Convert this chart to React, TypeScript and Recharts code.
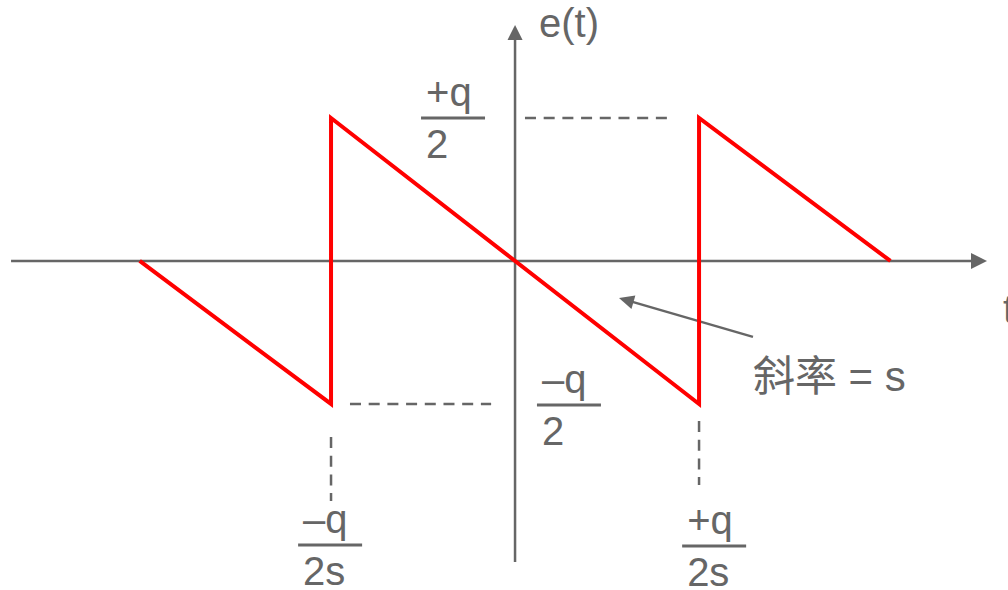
import React from 'react';
import { ComposedChart, Line, XAxis, YAxis, ReferenceLine, ReferenceDot } from 'recharts';

// sawtooth quantisation error e(t); x in units of q/(2s), y in units of q/2
const sawX = [-2.04, -1, -1, 1, 1, 2.04];
const sawY = [0, -1, 1, -1, 1, 0];
const data = sawX.map((x, i) => ({ x, y: sawY[i] }));

const xDomain: [number, number] = [-2.799, 2.679];
const yDomain: [number, number] = [-2.301, 1.825];

// fraction labels
const fracNum = ['+q', '–q', '–q', '+q'];
const fracDen = ['2', '2', '2s', '2s'];
const fracX = [-0.337, 0.293, -1.005, 1.082];
const fracY = [1.0, -1.007, -1.986, -1.993];

// plain text labels
const textLabels = ['e(t)', '斜率 = s', 't'];
const textX = [0.13, 1.293, 2.652];
const textY = [1.566, -0.909, -0.434];
const textSize = [40, 42, 40];

// dashed guides
const guides = [
  [{ x: 0.054, y: 1 }, { x: 0.826, y: 1 }],
  [{ x: -0.897, y: -1 }, { x: -0.13, y: -1 }],
  [{ x: -1, y: -1.231 }, { x: -1, y: -1.678 }],
  [{ x: 1, y: -1.119 }, { x: 1, y: -1.566 }],
];

const GREY = '#666666';
const FONT = '"Liberation Sans", Arial, "Noto Sans CJK SC", sans-serif';

const arrowShape = (len: number, half: number, width: number) => (p: any) => {
  const { x1, y1, x2, y2 } = p;
  const dx = x2 - x1;
  const dy = y2 - y1;
  const d = Math.sqrt(dx * dx + dy * dy) || 1;
  const ux = dx / d;
  const uy = dy / d;
  const bx = x2 - ux * len;
  const by = y2 - uy * len;
  const px = -uy * half;
  const py = ux * half;
  return (
    <g>
      <line x1={x1} y1={y1} x2={bx + ux * 1} y2={by + uy * 1} stroke={GREY} strokeWidth={width} />
      <polygon points={`${x2},${y2} ${bx + px},${by + py} ${bx - px},${by - py}`} fill={GREY} />
    </g>
  );
};

const fractionShape = (num: string, den: string) => (p: any) => {
  const { cx, cy } = p;
  return (
    <g>
      <line x1={cx - 32} y1={cy} x2={cx + 32} y2={cy} stroke={GREY} strokeWidth={3} />
      <text x={cx - 27} y={cy - 12} fill={GREY} fontSize={40} fontFamily={FONT}>{num}</text>
      <text x={cx - 27} y={cy + 40} fill={GREY} fontSize={40} fontFamily={FONT}>{den}</text>
    </g>
  );
};

const textShape = (s: string, size: number) => (p: any) => (
  <text x={p.cx} y={p.cy} fill={GREY} fontSize={size} fontFamily={FONT}>{s}</text>
);

export default function App() {
  return (
    <div style={{ position: 'absolute', left: 0, top: 0, width: 1008, height: 590, background: '#fff' }}>
      <ComposedChart width={1008} height={590} data={data} margin={{ top: 0, right: 0, bottom: 0, left: 0 }}>
        <XAxis type="number" dataKey="x" domain={xDomain} hide allowDataOverflow />
        <YAxis type="number" domain={yDomain} hide allowDataOverflow />
        <ReferenceLine segment={[{ x: -2.739, y: 0 }, { x: 2.565, y: 0 }]} shape={arrowShape(16, 8, 2.5)} ifOverflow="visible" />
        <ReferenceLine segment={[{ x: 0, y: -2.105 }, { x: 0, y: 1.65 }]} shape={arrowShape(15, 7.5, 2.5)} ifOverflow="visible" />
        {guides.map((g, i) => (
          <ReferenceLine key={'g' + i} segment={g} stroke={GREY} strokeWidth={2.5} strokeDasharray="11 7.7" ifOverflow="visible" />
        ))}
        <ReferenceLine segment={[{ x: 1.293, y: -0.531 }, { x: 0.565, y: -0.259 }]} shape={arrowShape(15, 7, 2.5)} ifOverflow="visible" />
        <Line type="linear" dataKey="y" stroke="#ff0000" strokeWidth={4} dot={false} activeDot={false} legendType="none" isAnimationActive={false} />
        {fracNum.map((n, i) => (
          <ReferenceDot key={'f' + i} x={fracX[i]} y={fracY[i]} r={1} shape={fractionShape(n, fracDen[i])} ifOverflow="visible" />
        ))}
        {textLabels.map((t, i) => (
          <ReferenceDot key={'t' + i} x={textX[i]} y={textY[i]} r={1} shape={textShape(t, textSize[i])} ifOverflow="visible" />
        ))}
      </ComposedChart>
    </div>
  );
}
